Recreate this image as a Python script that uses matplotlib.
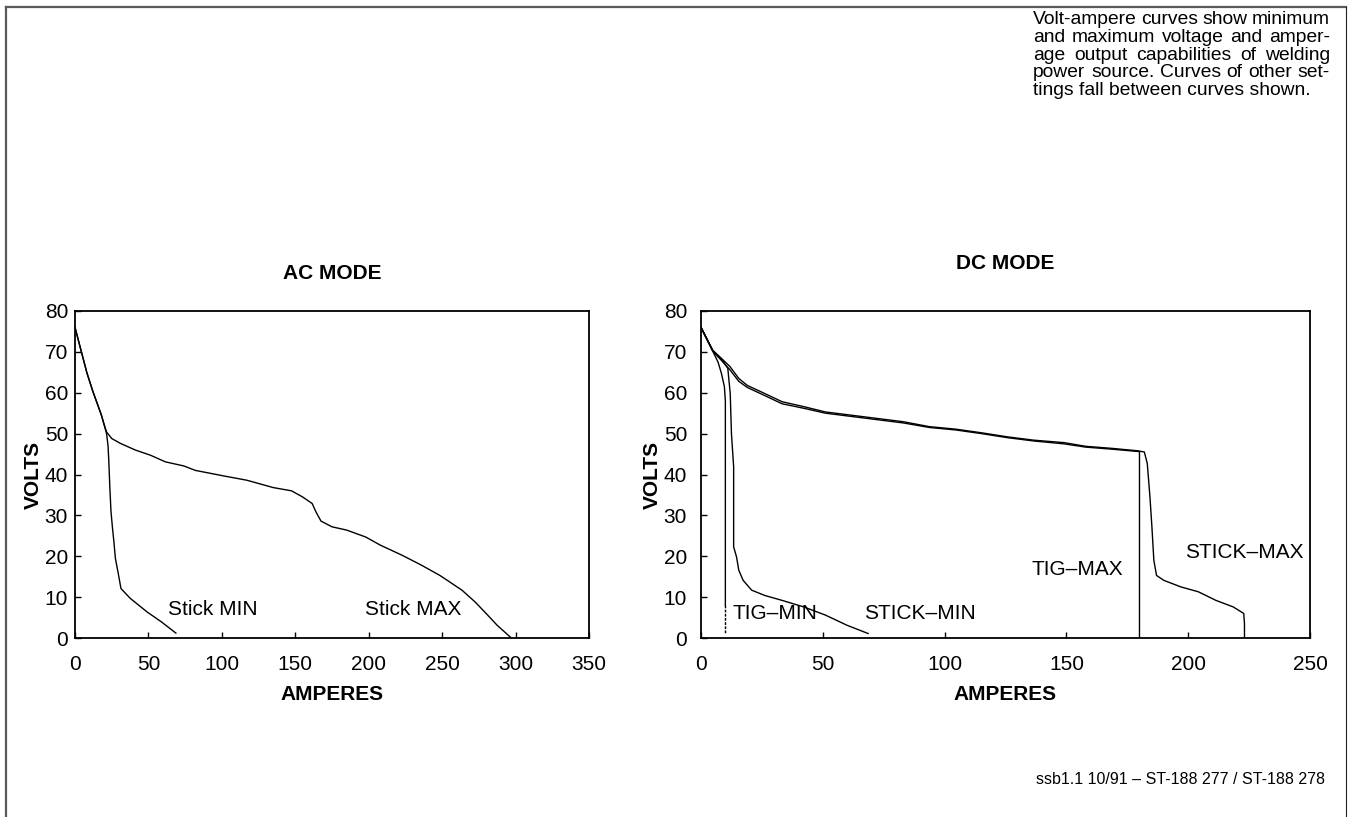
import matplotlib
matplotlib.use("Agg")
import matplotlib.pyplot as plt
from matplotlib.lines import Line2D

plt.rcParams['font.family'] = ['Liberation Sans', 'DejaVu Sans']

# ---- AC mode curves (amps, volts) ----
ac_max_amps = [0, 4, 8, 12, 16, 18, 20, 21.5, 25, 31, 41, 51.5, 61.5, 74, 82,
               102, 117, 135, 147.5, 155, 161.5, 164, 167.5, 175, 185, 198,
               208, 223, 236, 248.5, 263.5, 272.5, 281, 287.5, 296.5]
ac_max_volts = [76, 70.5, 65, 60.5, 56.5, 54.5, 52, 50.4, 48.8, 47.6, 46, 44.7,
                43.1, 42.1, 41, 39.6, 38.6, 36.8, 36, 34.5, 32.9, 30.9, 28.6,
                27.2, 26.4, 24.7, 22.7, 20.2, 17.8, 15.3, 11.7, 8.8, 5.6, 3.1, 0.2]

ac_min_amps = [0, 4, 8, 12, 16, 18, 20, 21.5, 22.5, 23, 23.7, 24.5, 25.5, 26.5,
               27.5, 29.5, 31.3, 37.6, 49, 59, 68.7]
ac_min_volts = [76, 70.5, 65, 60.5, 56.5, 54.5, 52, 50, 47, 43.5, 37, 31,
                27, 23.5, 19.5, 15.7, 12.1, 9.7, 6.4, 3.9, 1.2]

# ---- DC mode curves ----
dc_stick_max_amps = [0, 4.8, 8.4, 11.9, 15.5, 19, 26.2, 33.3, 42.2, 51.1, 61.8,
                     72.5, 83.2, 93.8, 104.5, 115.2, 125.9, 136.6, 149, 157.9,
                     168.6, 179.3, 182, 183.2, 184.3, 185.1, 185.9, 187, 190,
                     197, 204.2, 211.4, 218.5, 222.8, 223.1, 223.1]
dc_stick_max_volts = [76, 70.4, 68.4, 66.4, 63.5, 61.8, 59.8, 57.8, 56.6, 55.3,
                      54.5, 53.7, 52.9, 51.7, 51.1, 50.2, 49.2, 48.4, 47.8, 46.9,
                      46.4, 45.8, 45.5, 42.7, 34.5, 27.2, 19, 15.3, 14.1, 12.5,
                      11.3, 9.2, 7.6, 6, 3.5, 0]

dc_tig_max_amps = [0, 4.8, 8.4, 11.9, 15.5, 19, 26.2, 33.3, 42.2, 51.1, 61.8,
                   72.5, 83.2, 93.8, 104.5, 115.2, 125.9, 136.6, 149, 157.9,
                   168.6, 180, 180]
dc_tig_max_volts = [76, 70.2, 67.9, 65.6, 62.8, 61.3, 59.3, 57.3, 56.2, 55.0,
                    54.2, 53.4, 52.6, 51.5, 50.9, 50.0, 49.0, 48.2, 47.5, 46.7,
                    46.2, 45.6, 0]

dc_tig_min_amps = [0, 4.8, 7, 8.4, 9.6, 10, 10, 10]
dc_tig_min_volts = [76, 70.2, 67.5, 64.7, 61.5, 58, 46, 8]
dc_tig_min_tail_amps = [10, 10]
dc_tig_min_tail_volts = [8, 1]

dc_stick_min_amps = [0, 4.8, 8.4, 11, 12, 12.5, 13.4, 13.4, 14.6, 15.5, 17.3,
                     20.8, 26.2, 33.3, 42.2, 51.1, 60, 68.6]
dc_stick_min_volts = [76, 70.4, 68.2, 66, 59.8, 50, 41.9, 22.3, 19.8, 16.6, 14.1,
                      11.7, 10.4, 9.2, 7.6, 5.6, 3.1, 1.1]

ac_xticks = [0, 50, 100, 150, 200, 250, 300, 350]
dc_xticks = [0, 50, 100, 150, 200, 250]
yticks = [0, 10, 20, 30, 40, 50, 60, 70, 80]

# curve labels: (text, amps, volts)
ac_labels = [("Stick MIN", 63, 7), ("Stick MAX", 197.5, 7)]
dc_labels = [("TIG\u2013MIN", 12.8, 6), ("STICK\u2013MIN", 66.8, 6),
             ("TIG\u2013MAX", 135.7, 16.7), ("STICK\u2013MAX", 198.9, 20.9)]

note_lines = ["Volt-ampere curves show minimum",
              "and maximum voltage and amper-",
              "age output capabilities of welding",
              "power source. Curves of other set-",
              "tings fall between curves shown."]
footer = "ssb1.1 10/91 \u2013 ST-188 277 / ST-188 278"

W, H = 1349, 817
fig = plt.figure(figsize=(W / 100, H / 100), dpi=100)


def px_axes(x0, y0, x1, y1):
    return fig.add_axes([x0 / W, 1 - y1 / H, (x1 - x0) / W, (y1 - y0) / H])


def style(ax, xmax, xticks, ypad, ylabelpad):
    ax.set_xlim(0, xmax)
    ax.set_ylim(0, 80)
    ax.set_xticks(xticks)
    ax.set_yticks(yticks)
    ax.tick_params(direction='in', length=4, width=1, labelsize=15)
    ax.tick_params(axis='x', pad=12)
    ax.tick_params(axis='y', pad=ypad)
    for s in ax.spines.values():
        s.set_linewidth(1.3)
    ax.set_ylabel("VOLTS", fontsize=15, fontweight='bold', labelpad=ylabelpad)
    ax.set_xlabel("AMPERES", fontsize=15, fontweight='bold', labelpad=8)


ax1 = px_axes(75, 311, 589, 638)
ax1.plot(ac_max_amps, ac_max_volts, color='black', lw=1.0)
ax1.plot(ac_min_amps, ac_min_volts, color='black', lw=1.0)
style(ax1, 350, ac_xticks, 5, 1)
ax1.set_title("AC MODE", fontsize=15, fontweight='bold', pad=23)
for txt, x, y in ac_labels:
    ax1.text(x, y, txt, fontsize=15, va='center', ha='left')

ax2 = px_axes(701, 311, 1310, 638)
ax2.plot(dc_stick_max_amps, dc_stick_max_volts, color='black', lw=1.0)
ax2.plot(dc_tig_max_amps, dc_tig_max_volts, color='black', lw=1.0)
ax2.plot(dc_tig_min_amps, dc_tig_min_volts, color='black', lw=1.0)
ax2.plot(dc_tig_min_tail_amps, dc_tig_min_tail_volts, color='black', lw=1.0,
         ls=(0, (2, 1)))
ax2.plot(dc_stick_min_amps, dc_stick_min_volts, color='black', lw=1.0)
style(ax2, 250, dc_xticks, 10, 1)
ax2.set_title("DC MODE", fontsize=15, fontweight='bold', pad=30)
for txt, x, y in dc_labels:
    ax2.text(x, y, txt, fontsize=15, va='center', ha='left')

# justified note, top right
renderer = fig.canvas.get_renderer()
x_left, x_right = 1033, 1330
base0, step = 24, 17.8
note_size = 13.9
for i, line in enumerate(note_lines):
    yb = 1 - (base0 + i * step) / H
    words = line.split()
    if i == len(note_lines) - 1:
        fig.text(x_left / W, yb, line, fontsize=note_size, va='baseline', ha='left')
        continue
    texts = [fig.text(0, yb, w, fontsize=note_size, va='baseline', ha='left') for w in words]
    widths = [t.get_window_extent(renderer).width for t in texts]
    gap = (x_right - x_left - sum(widths)) / (len(words) - 1)
    xpos = x_left
    for t, wd in zip(texts, widths):
        t.set_x(xpos / W)
        xpos += wd + gap

fig.text(1325 / W, 1 - 780 / H, footer, fontsize=11.5, ha='right', va='center')

# frame around the sheet (left, top, right)
grey = '#5a5a5a'
fig.add_artist(Line2D([6 / W, 6 / W], [0, 1 - 7 / H], color=grey, lw=1.6))
fig.add_artist(Line2D([6 / W, 1346 / W], [1 - 7 / H, 1 - 7 / H], color=grey, lw=1.6))
fig.add_artist(Line2D([1346 / W, 1346 / W], [0, 1 - 7 / H], color='#222222', lw=0.8))

fig.savefig("out.png", dpi=100)
